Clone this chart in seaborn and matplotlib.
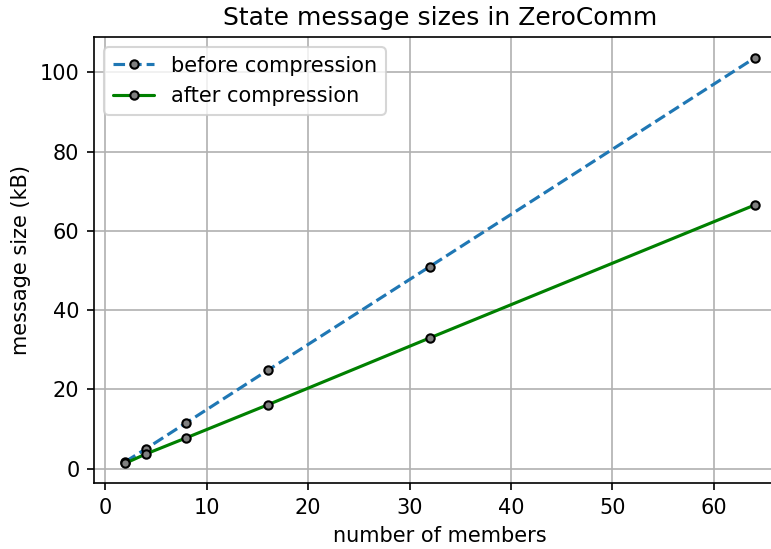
import matplotlib
matplotlib.use("Agg")
import matplotlib.pyplot as plt
import seaborn as sns
import pandas as pd

members = [2, 4, 8, 16, 32, 64]
before_kb = [1.8, 5.0, 11.6, 24.8, 51.0, 103.6]
after_kb = [1.4, 3.7, 7.8, 16.1, 33.0, 66.5]

sns.set_style("ticks")
plt.rcParams['font.family'] = ['DejaVu Sans']
plt.rcParams['text.color'] = 'black'
plt.rcParams['axes.labelcolor'] = 'black'
plt.rcParams['xtick.color'] = 'black'
plt.rcParams['ytick.color'] = 'black'

DPI = 150
fig = plt.figure(figsize=(771 / DPI, 549 / DPI), dpi=DPI)
ax = fig.add_axes([94 / 771, 1 - 483 / 549, (786 - 94) / 771, (483 - 37) / 549])

df_b = pd.DataFrame({"members": members, "size": before_kb})
df_a = pd.DataFrame({"members": members, "size": after_kb})

sns.lineplot(data=df_b, x="members", y="size", ax=ax, color="#1f77b4", linestyle="--",
             linewidth=1.5, marker="o", markersize=4, markerfacecolor="grey",
             markeredgecolor="black", markeredgewidth=1.0, label="before compression")
sns.lineplot(data=df_a, x="members", y="size", ax=ax, color="green", linestyle="-",
             linewidth=1.5, marker="o", markersize=4, markerfacecolor="grey",
             markeredgecolor="black", markeredgewidth=1.0, label="after compression")

ax.set_xlim(-1.1, 67.1)
ax.set_ylim(-3.6, 108.9)
ax.set_xticks([0, 10, 20, 30, 40, 50, 60])
ax.set_yticks([0, 20, 40, 60, 80, 100])
ax.grid(True, color="#b0b0b0", linewidth=0.8)
ax.tick_params(labelsize=10, length=3.5, width=0.8, colors="black")
for s in ax.spines.values():
    s.set_color("black")
    s.set_linewidth(0.8)
ax.set_xlabel("number of members", fontsize=10)
ax.set_ylabel("message size (kB)", fontsize=10)
ax.set_title("State message sizes in ZeroComm", fontsize=12)
ax.legend(loc="upper left", fontsize=10, frameon=True)

fig.savefig("out.png", dpi=DPI)
